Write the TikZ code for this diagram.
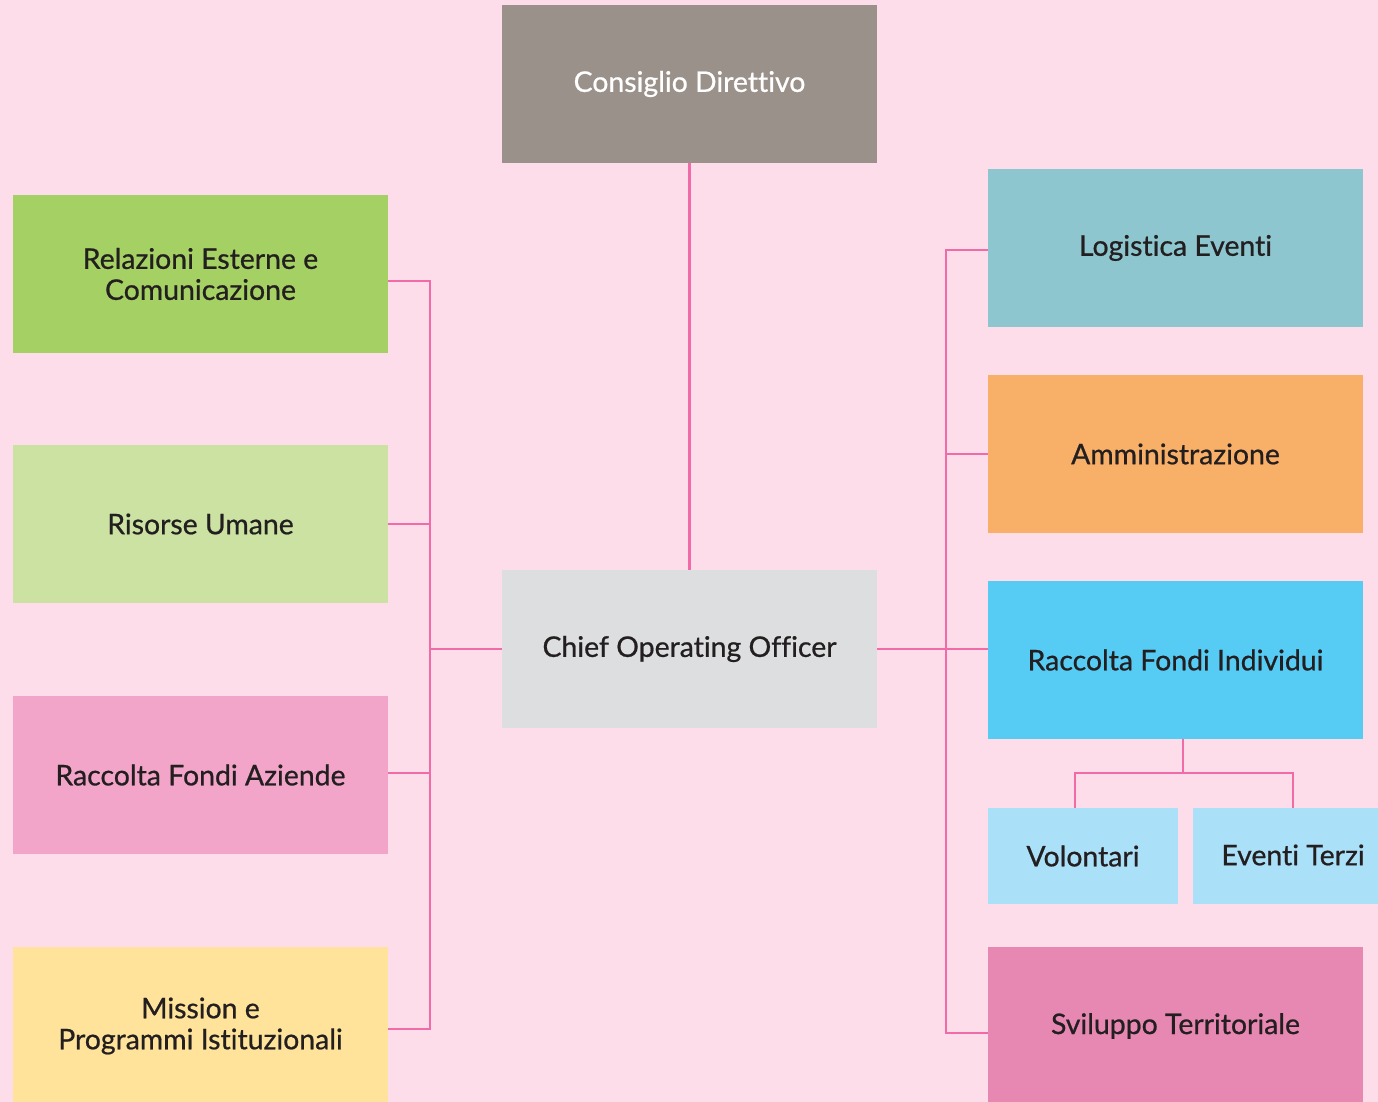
\documentclass[tikz,border=0pt]{standalone}
\usepackage{fontspec}
\setmainfont{Lato}
\newfontfamily\mfont[FakeBold=0.7,Ligatures=NoCommon]{Lato}
\definecolor{bg}{HTML}{FCDDE9}
\definecolor{cgrey}{HTML}{9B918B}
\definecolor{cooc}{HTML}{DDDEE0}
\definecolor{relc}{HTML}{A5D063}
\definecolor{risc}{HTML}{CBE2A3}
\definecolor{azic}{HTML}{F2A5C8}
\definecolor{misc}{HTML}{FFE39B}
\definecolor{logc}{HTML}{8DC6CF}
\definecolor{ammc}{HTML}{F8AF68}
\definecolor{rfic}{HTML}{56CCF5}
\definecolor{volc}{HTML}{ABE0F9}
\definecolor{svic}{HTML}{E688B2}
\definecolor{linkc}{HTML}{F06BA8}
\definecolor{txt}{HTML}{231F20}
\tikzset{
  lbl/.style={text=txt, font=\mfont\fontsize{14.2}{15.5}\selectfont},
  box/.style={rectangle, inner sep=0pt, minimum width=187.5pt, minimum height=79pt,
    align=center, lbl},
  smallbox/.style={box, minimum width=95pt, minimum height=48pt},
  link/.style={draw=linkc, line width=1.25pt}
}
\begin{document}
\begin{tikzpicture}[x=0.5pt,y=-0.5pt]
\useasboundingbox (0,0) rectangle (1378,1102);
\fill[bg] (0,0) rectangle (1378,1102);
\clip (0,0) rectangle (1378,1102);
% nodes
\node[box, fill=cgrey, text=white] (cd) at (689.5,84) {Consiglio Direttivo};
\node[box, fill=cooc] (coo) at (689.5,649) {Chief Operating Officer};
\node[box, fill=relc] (rel) at (200.5,274) {Relazioni Esterne e\\Comunicazione};
\node[box, fill=risc] (ris) at (200.5,524) {Risorse Umane};
\node[box, fill=azic] (azi) at (200.5,775) {Raccolta Fondi Aziende};
\node[box, fill=misc] (mis) at (200.5,1026) {Mission e\\Programmi Istituzionali};
\node[box, fill=logc] (log) at (1175.5,248) {Logistica Eventi};
\node[box, fill=ammc] (amm) at (1175.5,454) {Amministrazione};
\node[box, fill=rfic] (rfi) at (1175.5,660) {Raccolta Fondi Individui};
\node[smallbox, fill=volc] (vol) at (1083,856) {Volontari};
\node[smallbox, fill=volc] (evt) at (1288,856) {};
\node[lbl] (evtl) at (1293,855) {Eventi Terzi};
\node[box, fill=svic] (svi) at (1175.5,1026) {Sviluppo Territoriale};
% bus coordinates
\coordinate (lb1) at (430,281);
\coordinate (lb2) at (430,524);
\coordinate (lbc) at (430,649);
\coordinate (lb3) at (430,773);
\coordinate (lb4) at (430,1029);
\coordinate (rb1) at (946,250);
\coordinate (rb2) at (946,454);
\coordinate (rbc) at (946,649);
\coordinate (rb4) at (946,1033);
\coordinate (sub) at (1183,773);
\coordinate (subl) at (1075,773);
\coordinate (subr) at (1293,773);
% connectors
\draw[link] (cd.south) -- (coo.north);
\draw[link] (rel.east |- lb1) -- (lb1) -- (lb4) -- (mis.east |- lb4);
\draw[link] (ris.east |- lb2) -- (lb2);
\draw[link] (azi.east |- lb3) -- (lb3);
\draw[link] (coo.west) -- (lbc);
\draw[link] (log.west |- rb1) -- (rb1) -- (rb4) -- (svi.west |- rb4);
\draw[link] (amm.west |- rb2) -- (rb2);
\draw[link] (coo.east) -- (rfi.west |- rbc);
\draw[link] (rfi.south -| sub) -- (sub);
\draw[link] (vol.north -| subl) -- (subl) -- (subr) -- (evt.north -| subr);
\end{tikzpicture}
\end{document}
